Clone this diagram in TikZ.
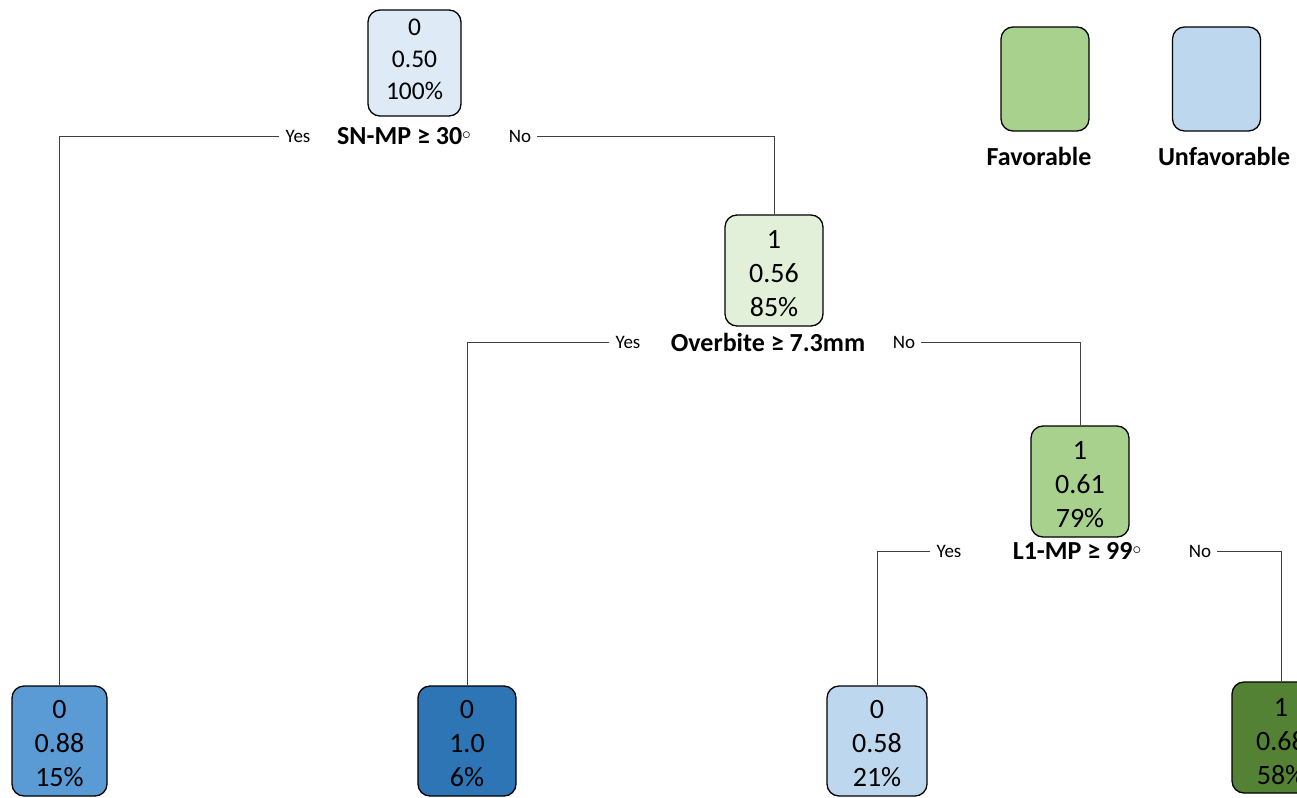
\documentclass[tikz,border=0pt]{standalone}
\usepackage{fontspec}
\setmainfont{Carlito}
\definecolor{rootc}{HTML}{DEEBF7}
\definecolor{lgreen}{HTML}{E2F0D9}
\definecolor{mgreen}{HTML}{A9D18E}
\definecolor{dgreen}{HTML}{548235}
\definecolor{lblue}{HTML}{BDD7EE}
\definecolor{mblue}{HTML}{5B9BD5}
\definecolor{dblue}{HTML}{2E75B6}
\tikzset{
  tnode/.style={draw=black, line width=1.3pt, rounded corners=12pt, minimum width=98pt, minimum height=111pt, inner sep=0pt, font=\fontsize{28}{34}\selectfont},
  rootnode/.style={tnode, minimum width=93pt, minimum height=106pt, font=\fontsize{25.5}{32}\selectfont},
  legbox/.style={draw=black, line width=1.3pt, rounded corners=12pt, minimum width=88pt, minimum height=104pt, inner sep=0pt},
  split/.style={font=\fontsize{26}{30}\selectfont\bfseries, inner sep=0pt},
  yn/.style={font=\fontsize{19}{22}\selectfont, inner sep=6pt},
  conn/.style={draw=black!75, line width=0.9pt}
}
\newcommand{\degc}{\raisebox{5pt}{\fontsize{18}{18}\selectfont$\circ$}}
% three-line node text, moved vertically by #4 without changing its box
\newcommand{\ntext}[4]{\raisebox{#4}[\height][\depth]{\begin{tabular}{@{}c@{}}#1\\#2\\#3\end{tabular}}}
\begin{document}
\begin{tikzpicture}[x=1pt,y=-1pt]
\clip (0,0) rectangle (1297,797);
% nodes
\node[rootnode, fill=rootc] (r) at (414.5,63) {\ntext{0}{0.50}{100\%}{2pt}};
\node[tnode, fill=lgreen] (n2) at (774,270.5) {\ntext{1}{0.56}{85\%}{-5.5pt}};
\node[tnode, fill=mgreen] (n3) at (1080,481.5) {\ntext{1}{0.61}{79\%}{-5pt}};
\node[tnode, fill=mblue, minimum width=95pt, minimum height=110pt] (l1) at (59.5,741) {\ntext{0}{0.88}{15\%}{-5pt}};
\node[tnode, fill=dblue, minimum height=110pt] (l2) at (467,741) {\ntext{0}{1.0}{6\%}{-5pt}};
\node[tnode, fill=lblue, minimum width=100pt, minimum height=110pt] (l3) at (877,741) {\ntext{0}{0.58}{21\%}{-5pt}};
\node[tnode, fill=dgreen] (l4) at (1281,737.5) {\ntext{1}{0.68}{58\%}{-6pt}};
% split labels
\node[split] (s1) at (404,136) {SN-MP ≥ 30\degc};
\node[yn] (y1) at (298,136) {Yes};
\node[yn] (no1) at (520,136) {No};
\node[split] (s2) at (768,342) {Overbite ≥ 7.3mm};
\node[yn] (y2) at (628,342) {Yes};
\node[yn] (no2) at (904,342) {No};
\node[split] (s3) at (1077,551) {L1-MP ≥ 99\degc};
\node[yn] (y3) at (949,551) {Yes};
\node[yn] (no3) at (1200,551) {No};
% connectors
\draw[conn] (y1.west) -| (l1.north);
\draw[conn] (no1.east) -| (n2.north);
\draw[conn] (y2.west) -| (l2.north);
\draw[conn] (no2.east) -| (n3.north);
\draw[conn] (y3.west) -| (l3.north);
\draw[conn] (no3.east) -| (l4.north);
% legend
\node[legbox, fill=mgreen] (lg) at (1045,79) {};
\node[legbox, fill=lblue] (lb) at (1216.5,79) {};
\node[split] (lgt) at (1039,156) {Favorable};
\node[split] (lbt) at (1224,156) {Unfavorable};
\end{tikzpicture}
\end{document}
